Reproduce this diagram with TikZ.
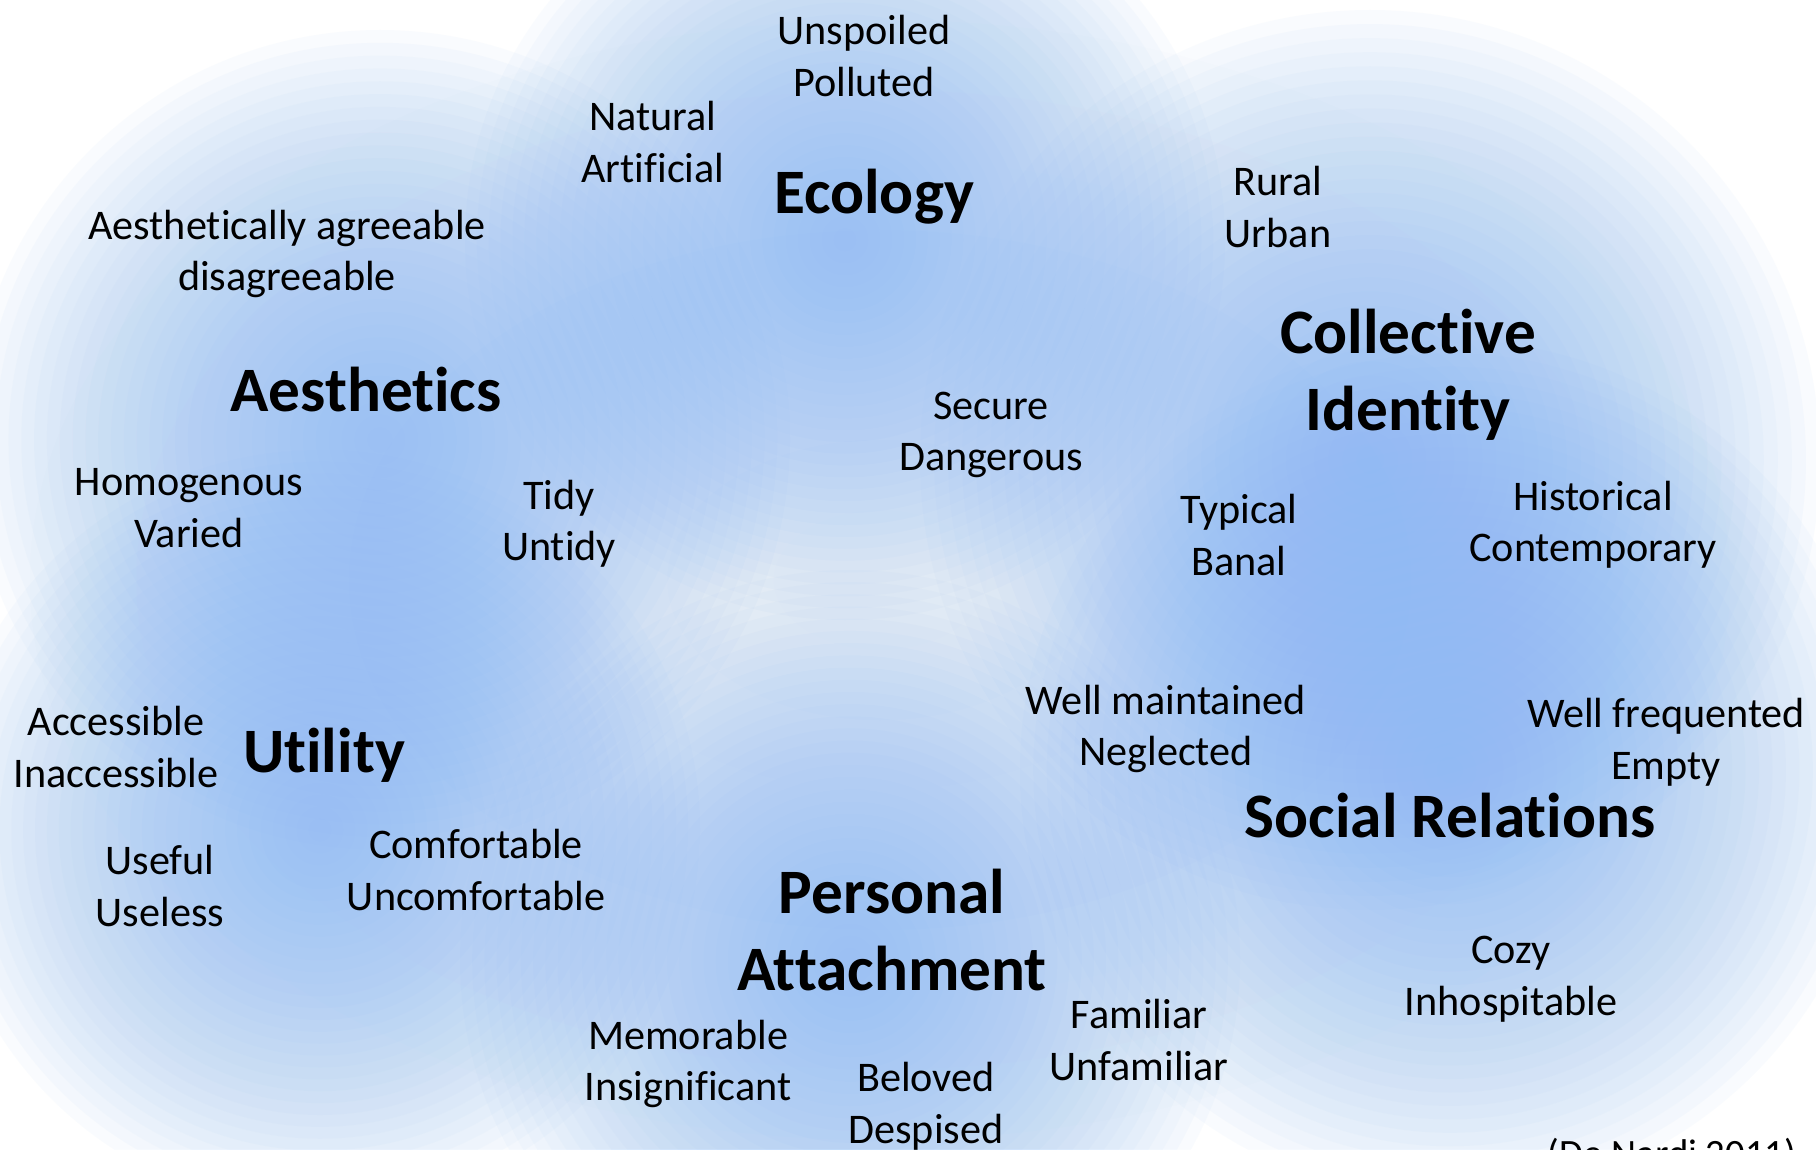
\documentclass[tikz,border=0pt]{standalone}
\usepackage{fontspec}
\setmainfont{Carlito}[Ligatures=NoCommon]
\definecolor{blobcol}{RGB}{140,186,243}
\definecolor{basecol}{RGB}{205,222,248}
\newcommand\softblob[3]{%
  \foreach \k in {1,...,32}{\fill[blobfill] (#1,#2) circle ({#3*\k/32});}}
\tikzset{
  blobfill/.style={fill=blobcol, fill opacity=0.046},
  basefill/.style={fill=basecol, fill opacity=0.04},
  lbl/.style={font=\fontsize{12}{14.64}\selectfont, align=center, inner sep=0pt, text=black},
  ttl/.style={font=\fontsize{18}{21.96}\selectfont\bfseries, align=center, inner sep=0pt, text=black},
}
\begin{document}
\begin{tikzpicture}[x=0.01cm,y=-0.01cm]
\useasboundingbox (0,0) rectangle (1816,1149);
\fill[white] (0,0) rectangle (1816,1149);
\begin{scope}
\clip (0,0) rectangle (1816,1149);
\foreach \k in {1,...,8}{\fill[basefill] (880,580) ellipse ({850*\k/8} and {560*\k/8});}
\softblob{380}{440}{410}
\softblob{845}{240}{380}
\softblob{1370}{460}{450}
\softblob{320}{830}{380}
\softblob{1450}{770}{430}
\softblob{850}{960}{390}
\end{scope}

% titles
\node[ttl] (eco) at (874,197) {Ecology};
\node[ttl] (aes) at (366,390) {Aesthetics};
\node[ttl] (col) at (1408,375) {Collective\\Identity};
\node[ttl] (uti) at (324,755) {Utility};
\node[ttl] (soc) at (1450,816) {Social Relations};
\node[ttl] (per) at (892,930) {Personal\\Attachment};

% labels
\node[lbl] (unsp) at (864,56) {Unspoiled\\Polluted};
\node[lbl] (natu) at (653,142) {Natural\\Artificial};
\node[lbl] (rura) at (1278,207) {Rural\\Urban};
\node[lbl] (agre) at (287,254) {Aesthetically agreeable\\disagreeable};
\node[lbl] (secu) at (991,435) {Secure\\Dangerous};
\node[lbl] (homo) at (189,508) {Homogenous\\Varied};
\node[lbl] (tidy) at (559,524) {Tidy\\Untidy};
\node[lbl] (typi) at (1239,535) {Typical\\Banal};
\node[lbl] (hist) at (1593,525) {Historical\\Contemporary};
\node[lbl] (main) at (1166,729) {Well maintained\\Neglected};
\node[lbl] (freq) at (1666,742) {Well frequented\\Empty};
\node[lbl] (acce) at (116,747) {Accessible\\Inaccessible};
\node[lbl] (usef) at (160,886) {Useful\\Useless};
\node[lbl] (comf) at (476,870) {Comfortable\\Uncomfortable};
\node[lbl] (cozy) at (1511,979) {Cozy\\Inhospitable};
\node[lbl] (fami) at (1139,1040) {Familiar\\Unfamiliar};
\node[lbl] (memo) at (688,1064) {Memorable\\Insignificant};
\node[lbl] (belo) at (926,1106) {Beloved\\Despised};
\node[lbl, font=\fontsize{11}{13}\selectfont, anchor=base] (cite) at (1672,1166) {(De Nardi 2011)};
\end{tikzpicture}
\end{document}
